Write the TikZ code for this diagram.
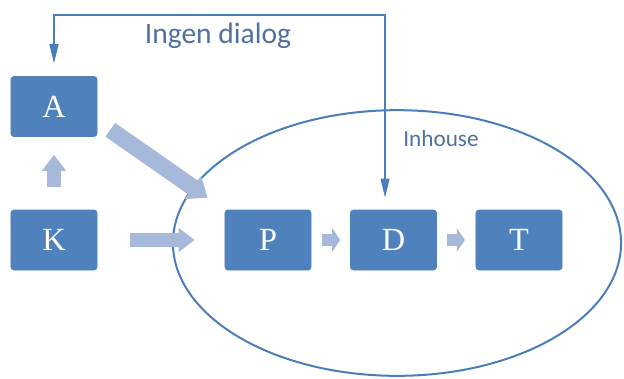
\documentclass[tikz,border=0pt]{standalone}
\usepackage{fontspec}
\setmainfont{Liberation Serif}
\setsansfont{Carlito}
\usepackage{tikz}
\usetikzlibrary{arrows.meta, positioning, calc}

\definecolor{boxblue}{HTML}{4F81BD}
\definecolor{lightarr}{HTML}{A7B9DA}
\definecolor{lineblue}{HTML}{4A7EBB}
\definecolor{textblue}{HTML}{50709F}

\begin{document}
\begin{tikzpicture}[
  x=0.025cm, y=-0.025cm,
  box/.style={draw=boxblue, fill=boxblue, rounded corners=0.07cm,
    minimum width=2.15cm, minimum height=1.5cm, inner sep=0pt,
    text=white, font=\fontsize{23}{26}\selectfont},
  fat/.style={draw=lightarr, line width=0.35cm,
    -{Triangle[length=0.4cm, width=0.58cm]}},
  small/.style={draw=lightarr, line width=0.32cm,
    -{Triangle[length=0.2cm, width=0.58cm]}},
  thin/.style={draw=lineblue, line width=0.04cm,
    {Triangle[length=0.48cm, width=0.22cm]}-{Triangle[length=0.48cm, width=0.22cm]}},
]
  \useasboundingbox (0,0) rectangle (624,378);

  \node[box] (A) at (54,106.5) {A};
  \node[box] (K) at (54,240) {K};
  \node[box] (P) at (268,240) {P};
  \node[box] (D) at (393.5,240) {D};
  \node[box] (T) at (519,240) {T};

  \draw[lineblue, line width=0.05cm] (397,243) ellipse [x radius=5.6cm, y radius=3.32cm];

  \node[font=\sffamily\fontsize{21}{24}\selectfont, text=textblue] (ingen) at (218,36) {Ingen dialog};
  \node[font=\sffamily\fontsize{16.5}{19}\selectfont, text=textblue!85!lineblue] (inhouse) at (441,139) {Inhouse};

  % block arrows
  \draw[fat, shorten <=0.58cm, shorten >=0.45cm] (K.north) -- (A.south);
  \draw[fat, shorten <=0.82cm, shorten >=0.75cm] (K.east) -- (P.west);
  \draw[fat, line width=0.42cm, -{Triangle[length=0.45cm, width=0.68cm]}]
    ([shift={(13,-7)}]A.south east) -- ([shift={(-17,-12)}]P.north west);
  \draw[small, shorten <=0.27cm, shorten >=0.25cm] (P.east) -- (D.west);
  \draw[small, shorten <=0.25cm, shorten >=0.27cm] (D.east) -- (T.west);

  % no dialog line
  \draw[thin, shorten <=0.32cm, shorten >=0.3cm]
    (A.north) -- ++(0,-61) -| ([xshift=-6]D.north);
\end{tikzpicture}
\end{document}
